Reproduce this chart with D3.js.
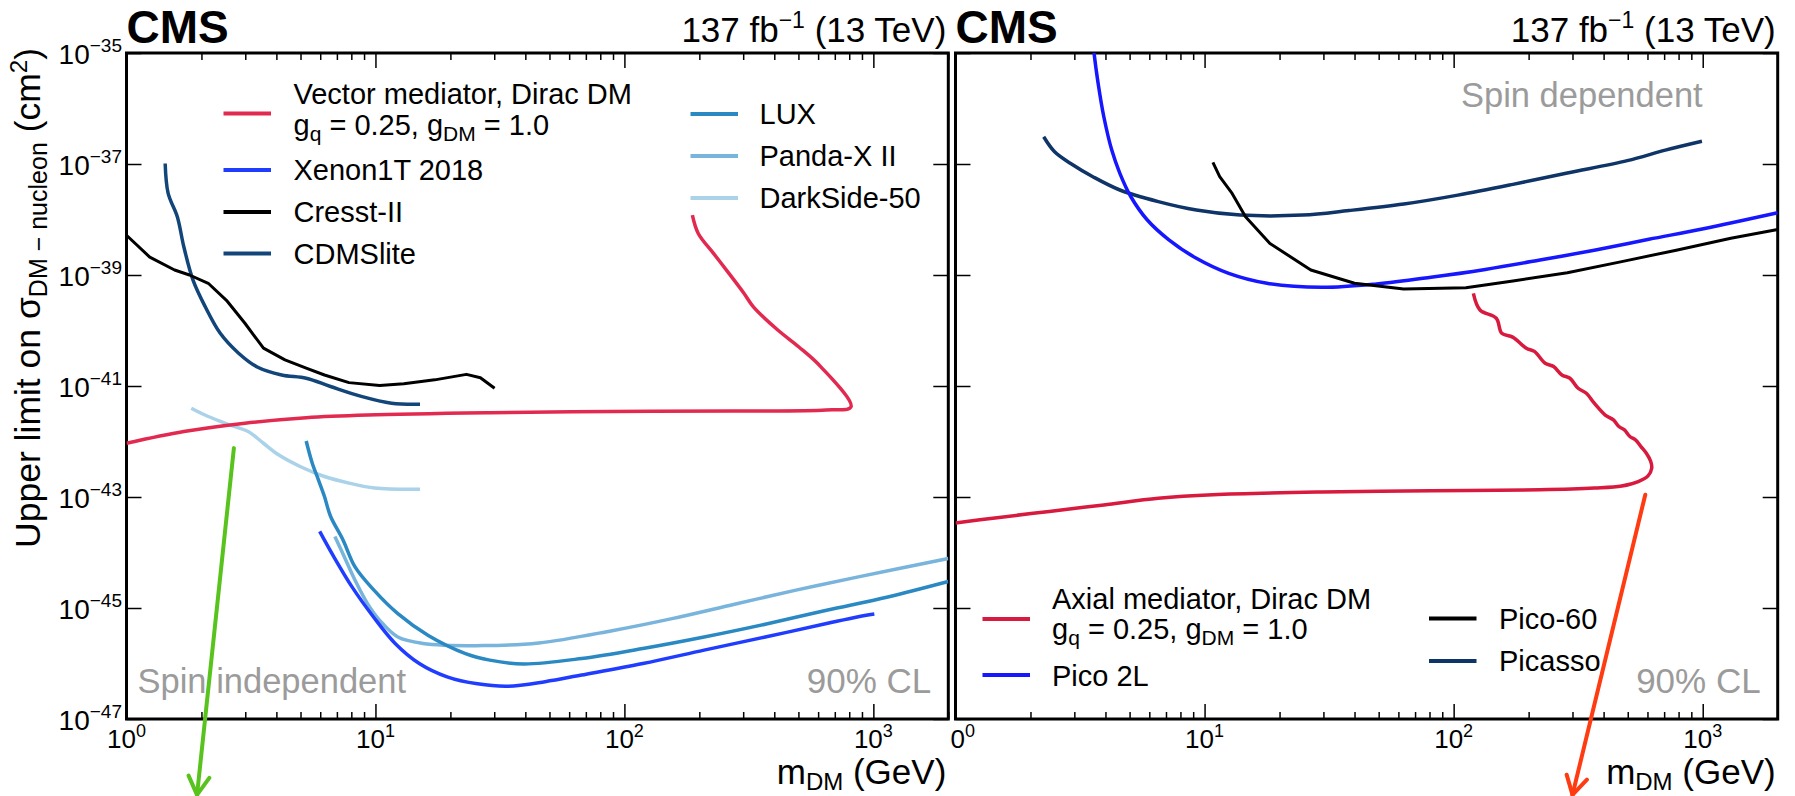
<!DOCTYPE html>
<html>
<head>
<meta charset="utf-8">
<script src="https://cdn.jsdelivr.net/npm/d3@7/dist/d3.min.js"></script>
<style>
  html, body { margin: 0; padding: 0; background: #fff; }
  svg { display: block; }
</style>
</head>
<body>
<script>
// ---------------- DATA ----------------
const xTickLabels = ["0", "1", "2", "3"];          // exponents of 10 on the mass axis
const yTickLabels = ["-35", "-37", "-39", "-41", "-43", "-45", "-47"]; // exponents on the cross-section axis

// Spin independent (left panel)
const vectorMass  = [187.5, 198, 228, 263, 302, 329, 413, 501, 614, 813, 646, 275, 89, 28.8, 9.29, 5.27, 2.99, 1.70, 1.0];
const vectorSigma = [1.2e-38, 5.6e-39, 2.45e-39, 1.07e-39, 4.7e-40, 2.7e-40, 1.02e-40, 5.1e-41, 2.24e-41, 4.2e-42, 3.7e-42, 3.55e-42, 3.47e-42, 3.3e-42, 3.0e-42, 2.69e-42, 2.14e-42, 1.51e-42, 9.3e-43];

const xenonMass  = [5.97, 6.79, 8.05, 9.82, 12.0, 15.0, 19.4, 25.7, 34.1, 48.0, 67.3, 118.6, 209, 368, 649, 861, 1009];
const xenonSigma = [2.4e-44, 8.5e-45, 2.4e-45, 6.9e-46, 2.3e-46, 1.0e-46, 5.75e-47, 4.3e-47, 3.9e-47, 4.7e-47, 6.2e-47, 1.0e-46, 1.74e-46, 3.0e-46, 5.25e-46, 6.9e-46, 7.8e-46];

const cresstMass  = [1.0, 1.24, 1.56, 1.79, 2.13, 2.52, 2.99, 3.55, 4.33, 5.27, 6.24, 7.83, 10.4, 13.0, 17.3, 23.2, 26.4, 30.1];
const cresstSigma = [5.2e-39, 2.1e-39, 1.23e-39, 1.0e-39, 7.1e-40, 3.5e-40, 1.35e-40, 4.8e-41, 2.95e-41, 2.1e-41, 1.58e-41, 1.15e-41, 1.02e-41, 1.1e-41, 1.29e-41, 1.62e-41, 1.41e-41, 9.1e-42];

const cdmsMass  = [1.43, 1.47, 1.60, 1.70, 1.85, 2.07, 2.38, 2.82, 3.35, 4.2, 5.27, 6.6, 8.77, 11.6, 15.1];
const cdmsSigma = [1.02e-37, 2.95e-38, 1.12e-38, 3.2e-39, 8.1e-40, 2.7e-40, 8.9e-41, 3.9e-41, 2.2e-41, 1.58e-41, 1.38e-41, 9.8e-42, 6.5e-42, 4.9e-42, 4.7e-42];

const luxMass  = [5.27, 5.57, 5.90, 6.24, 6.6, 7.4, 8.28, 9.82, 12.3, 16.3, 23.0, 28.8, 39.4, 67.3, 118.6, 209, 368, 649, 1143, 2000];
const luxSigma = [1.02e-42, 4.1e-43, 2.04e-43, 1.02e-43, 4.5e-44, 1.7e-44, 5.5e-45, 2.14e-45, 7.9e-46, 3.2e-46, 1.51e-46, 1.15e-46, 9.8e-47, 1.23e-46, 1.86e-46, 3.0e-46, 5.1e-46, 9.1e-46, 1.58e-45, 3.0e-45];

const pandaMass  = [6.87, 7.4, 8.28, 9.29, 10.4, 12.3, 15.5, 27.2, 45.3, 89.3, 157, 277, 489, 861, 2000];
const pandaSigma = [1.95e-44, 9.5e-45, 3.16e-45, 1.2e-45, 6.0e-46, 3.0e-46, 2.3e-46, 2.1e-46, 2.34e-46, 3.9e-46, 6.5e-46, 1.17e-45, 2.1e-45, 3.6e-45, 7.8e-45];

const darksideMass  = [1.82, 2.13, 2.59, 3.08, 3.55, 4.08, 4.98, 6.24, 7.83, 9.93, 15.1];
const darksideSigma = [3.98e-42, 2.82e-42, 2.0e-42, 1.51e-42, 9.3e-43, 5.75e-43, 3.55e-43, 2.34e-43, 1.78e-43, 1.45e-43, 1.38e-43];

// Spin dependent (right panel)
const axialMass  = [120, 127.6, 148.3, 156, 172.6, 195.8, 211, 233, 252, 272, 293, 316, 341, 367, 406, 438, 461, 485, 510, 537, 565, 593, 618, 624, 603, 551, 473, 367, 222, 81.1, 29.5, 10.8, 6.52, 3.94, 2.38, 1.44, 1.0];
const axialSigma = [4.68e-40, 2.34e-40, 1.66e-40, 8.9e-41, 7.6e-41, 4.8e-41, 4.2e-41, 2.57e-41, 2.24e-41, 1.58e-41, 1.38e-41, 9.1e-42, 7.4e-42, 4.9e-42, 3.0e-42, 2.45e-42, 1.86e-42, 1.62e-42, 1.23e-42, 1.07e-42, 8.1e-43, 6.2e-43, 4.4e-43, 3.3e-43, 2.4e-43, 1.9e-43, 1.58e-43, 1.45e-43, 1.35e-43, 1.29e-43, 1.23e-43, 1.1e-43, 9.5e-44, 7.2e-44, 5.5e-44, 4.2e-44, 3.4e-44];

const pico2lMass  = [3.55, 3.6, 3.74, 3.94, 4.24, 4.57, 5.06, 5.89, 7.19, 9.27, 12.5, 17.8, 29.5, 49.0, 81.1, 134, 222, 367, 608, 1007, 2000];
const pico2lSigma = [2e-35, 1e-35, 2.8e-36, 7.1e-37, 1.78e-37, 6.8e-38, 2.57e-38, 9.8e-39, 4.3e-39, 2.0e-39, 1.07e-39, 7.1e-40, 6.0e-40, 6.9e-40, 9.1e-40, 1.26e-39, 1.86e-39, 2.8e-39, 4.4e-39, 6.8e-39, 1.32e-38];

const pico60Mass  = [10.8, 11.5, 12.9, 14.6, 18.3, 26.7, 40.0, 63.0, 112, 173, 286, 473, 783, 1297, 2000];
const pico60Sigma = [1.07e-37, 5.9e-38, 2.95e-38, 1.12e-38, 3.7e-39, 1.23e-39, 7.1e-40, 5.6e-40, 5.9e-40, 7.8e-40, 1.1e-39, 1.74e-39, 2.8e-39, 4.6e-39, 6.6e-39];

const picassoMass  = [2.26, 2.5, 2.9, 3.56, 4.57, 6.52, 9.27, 13.9, 24.8, 38.0, 63.1, 104, 173, 286, 498, 708, 993];
const picassoSigma = [3.1e-37, 1.66e-37, 1.02e-37, 5.9e-38, 3.4e-38, 2.1e-38, 1.48e-38, 1.2e-38, 1.2e-38, 1.45e-38, 1.9e-38, 2.75e-38, 4.3e-38, 6.9e-38, 1.15e-37, 1.78e-37, 2.57e-37];

// Annotation arrows (data coordinates: mass, sigma)
const greenArrow = [[2.7, 7.6e-43], [1.92, 4.3e-49]];
const redArrow   = [[588, 1.1e-43], [300, 4.3e-49]];

// ---------------- DRAWING ----------------
const W = 1795, H = 796;
const FONT = "'Liberation Sans', Arial, Helvetica, sans-serif";
const svg = d3.select("body").append("svg").attr("width", W).attr("height", H)
  .style("font-family", FONT);

const yTop = 53, yBot = 719;
const y = d3.scaleLog().domain([1e-47, 1e-35]).range([yBot, yTop]);
const panels = [
  { id: "L", left: 126.5, right: 948.3 },
  { id: "R", left: 955.5, right: 1777.7 }
];
panels.forEach(p => p.x = d3.scaleLog().domain([1, 2000]).range([p.left, p.right]));

const zip = (m, s) => m.map((v, i) => [v, s[i]]);

const defs = svg.append("defs");
panels.forEach(p => {
  defs.append("clipPath").attr("id", "clip" + p.id)
    .append("rect").attr("x", p.left).attr("y", yTop).attr("width", p.right - p.left).attr("height", yBot - yTop);
});
defs.append("clipPath").attr("id", "clipLabR")
  .append("rect").attr("x", 950).attr("y", 0).attr("width", 900).attr("height", H);

const majorX = xTickLabels.map(e => Math.pow(10, +e));
const minorX = [];
for (let d = 0; d <= 3; d++) for (let k = 2; k <= 9; k++) { const v = k * Math.pow(10, d); if (v <= 2000) minorX.push(v); }
const majorY = yTickLabels.map(e => Math.pow(10, +e));

function drawAxes(p) {
  const g = svg.append("g");
  const styleAxis = sel => { sel.select(".domain").remove(); sel.selectAll("text").remove();
    sel.selectAll("line").attr("stroke", "#000").attr("stroke-width", 1.5); };
  g.append("g").attr("transform", `translate(0,${yBot})`).call(d3.axisBottom(p.x).tickValues(majorX).tickSize(-15)).call(styleAxis);
  g.append("g").attr("transform", `translate(0,${yBot})`).call(d3.axisBottom(p.x).tickValues(minorX).tickSize(-7)).call(styleAxis);
  g.append("g").attr("transform", `translate(0,${yTop})`).call(d3.axisTop(p.x).tickValues(majorX).tickSize(-15)).call(styleAxis);
  g.append("g").attr("transform", `translate(0,${yTop})`).call(d3.axisTop(p.x).tickValues(minorX).tickSize(-7)).call(styleAxis);
  g.append("g").attr("transform", `translate(${p.left},0)`).call(d3.axisLeft(y).tickValues(majorY).tickSize(-15)).call(styleAxis);
  g.append("g").attr("transform", `translate(${p.right},0)`).call(d3.axisRight(y).tickValues(majorY).tickSize(-15)).call(styleAxis);
  g.append("rect").attr("x", p.left).attr("y", yTop).attr("width", p.right - p.left).attr("height", yBot - yTop)
    .attr("fill", "none").attr("stroke", "#000").attr("stroke-width", 3);

  // x tick labels
  const lg = svg.append("g");
  if (p.id === "R") lg.attr("clip-path", "url(#clipLabR)");
  xTickLabels.forEach((e, i) => {
    const t = lg.append("text").attr("x", p.x(majorX[i])).attr("y", 748).attr("text-anchor", "middle").attr("fill", "#000");
    t.append("tspan").attr("font-size", 26).text("10");
    t.append("tspan").attr("font-size", 18).attr("dy", -11).text(e);
  });
  // x title
  const xt = svg.append("text").attr("x", p.right - 2).attr("y", 784).attr("text-anchor", "end").attr("font-size", 35);
  xt.append("tspan").text("m");
  xt.append("tspan").attr("font-size", 24).attr("dy", 6).text("DM");
  xt.append("tspan").attr("dy", -6).text(" (GeV)");
  // CMS + lumi
  svg.append("text").attr("x", p.left).attr("y", 43).attr("font-size", 46).attr("font-weight", "bold").text("CMS");
  const lt = svg.append("text").attr("x", p.right - 2).attr("y", 42).attr("text-anchor", "end").attr("font-size", 35);
  lt.append("tspan").text("137 fb");
  lt.append("tspan").attr("font-size", 23).attr("dy", -14).text("\u22121");
  lt.append("tspan").attr("dy", 14).text(" (13 TeV)");
}
panels.forEach(drawAxes);

// y tick labels (left panel only)
yTickLabels.forEach((e, i) => {
  const t = svg.append("text").attr("x", 122).attr("y", y(majorY[i]) + 11).attr("text-anchor", "end");
  t.append("tspan").attr("font-size", 28).text("10");
  t.append("tspan").attr("font-size", 19).attr("dy", -12).text(e.replace("-", "\u2212"));
});

// y title
const yt = svg.append("text").attr("transform", "translate(40,48) rotate(-90)").attr("text-anchor", "end").attr("font-size", 35.5);
yt.append("tspan").text("Upper limit on \u03C3");
yt.append("tspan").attr("font-size", 25).attr("dy", 7).text("DM \u2212 nucleon");
yt.append("tspan").attr("dy", -7).text(" (cm");
yt.append("tspan").attr("font-size", 24).attr("dy", -13).text("2");
yt.append("tspan").attr("dy", 13).text(")");

// curves
function curve(p, mass, sigma, color, width, curveType) {
  const line = d3.line().x(d => p.x(d[0])).y(d => y(d[1])).curve(curveType || d3.curveCatmullRom.alpha(0.5));
  svg.append("g").attr("clip-path", `url(#clip${p.id})`).append("path")
    .attr("d", line(zip(mass, sigma))).attr("fill", "none").attr("stroke", color)
    .attr("stroke-width", width).attr("stroke-linejoin", "round").attr("stroke-linecap", "butt");
}
const L = panels[0], R = panels[1];
const C = {
  vector: "#e2294f", axial: "#d71a3d", xenon: "#1f3cff", pico2l: "#1616ff", black: "#000000",
  cdms: "#12467a", picasso: "#0f3467", lux: "#2a89c3", panda: "#79b4dc", darkside: "#aad2e8"
};
curve(L, darksideMass, darksideSigma, C.darkside, 3.5);
curve(L, pandaMass, pandaSigma, C.panda, 3.5);
curve(L, luxMass, luxSigma, C.lux, 3.5);
curve(L, xenonMass, xenonSigma, C.xenon, 3.5);
curve(L, cdmsMass, cdmsSigma, C.cdms, 3.5);
curve(L, cresstMass, cresstSigma, C.black, 3, d3.curveLinear);
curve(L, vectorMass, vectorSigma, C.vector, 3.5);

curve(R, picassoMass, picassoSigma, C.picasso, 3.5);
curve(R, pico2lMass, pico2lSigma, C.pico2l, 3.5);
curve(R, pico60Mass, pico60Sigma, C.black, 3, d3.curveLinear);
curve(R, axialMass, axialSigma, C.axial, 3.5);

// grey labels
const grey = "#9b9b9b";
svg.append("text").attr("x", L.left + 11).attr("y", 693).attr("font-size", 34.5).attr("fill", grey).text("Spin independent");
svg.append("text").attr("x", L.right - 17).attr("y", 693).attr("font-size", 35).attr("fill", grey).attr("text-anchor", "end").text("90% CL");
svg.append("text").attr("x", R.right - 17).attr("y", 693).attr("font-size", 35).attr("fill", grey).attr("text-anchor", "end").text("90% CL");
svg.append("text").attr("x", R.x(1000)).attr("y", 107).attr("font-size", 34.5).attr("fill", grey).attr("text-anchor", "end").text("Spin dependent");

// legends
function legendLine(x0, yy, color) {
  svg.append("line").attr("x1", x0).attr("x2", x0 + 47.5).attr("y1", yy).attr("y2", yy)
    .attr("stroke", color).attr("stroke-width", 4);
}
function legendText(x, yy, text) {
  svg.append("text").attr("x", x).attr("y", yy).attr("font-size", 29).text(text);
}
function couplingText(x, yy) {
  const t = svg.append("text").attr("x", x).attr("y", yy).attr("font-size", 29);
  t.append("tspan").text("g");
  t.append("tspan").attr("font-size", 21).attr("dy", 6).text("q");
  t.append("tspan").attr("dy", -6).text(" = 0.25, g");
  t.append("tspan").attr("font-size", 21).attr("dy", 6).text("DM");
  t.append("tspan").attr("dy", -6).text(" = 1.0");
}
// left legend
legendLine(223.5, 113.5, C.vector);
legendText(293.5, 104, "Vector mediator, Dirac DM");
couplingText(293.5, 135);
legendLine(223.5, 170, C.xenon);   legendText(293.5, 180, "Xenon1T 2018");
legendLine(223.5, 212, C.black);   legendText(293.5, 222, "Cresst-II");
legendLine(223.5, 253.5, C.cdms);  legendText(293.5, 264, "CDMSlite");
legendLine(690.5, 114, C.lux);     legendText(759.5, 124, "LUX");
legendLine(690.5, 156, C.panda);   legendText(759.5, 166, "Panda-X II");
legendLine(690.5, 198, C.darkside);legendText(759.5, 208, "DarkSide-50");
// right legend
legendLine(982.5, 619, C.axial);
legendText(1052, 608.5, "Axial mediator, Dirac DM");
couplingText(1052, 638.5);
legendLine(982.5, 675, C.pico2l);  legendText(1052, 685.5, "Pico 2L");
legendLine(1429, 618.5, C.black);  legendText(1499, 628.5, "Pico-60");
legendLine(1429, 661, C.picasso);  legendText(1499, 671, "Picasso");

// annotation arrows
function arrow(p, pts, color) {
  const x1 = p.x(pts[0][0]), y1 = y(pts[0][1]), x2 = p.x(pts[1][0]), y2 = y(pts[1][1]);
  const g = svg.append("g").attr("stroke", color).attr("stroke-width", 4).attr("fill", "none")
    .attr("stroke-linecap", "round").attr("stroke-linejoin", "round");
  g.append("line").attr("x1", x1).attr("y1", y1).attr("x2", x2).attr("y2", y2);
  const ang = Math.atan2(y2 - y1, x2 - x1), len = 21, spread = 0.52;
  const a1 = ang + Math.PI - spread, a2 = ang + Math.PI + spread;
  g.append("path").attr("d",
    `M${x2 + len * Math.cos(a1)},${y2 + len * Math.sin(a1)} L${x2},${y2} L${x2 + len * Math.cos(a2)},${y2 + len * Math.sin(a2)}`);
}
arrow(L, greenArrow, "#58c31c");
arrow(R, redArrow, "#ff3b12");
</script>
</body>
</html>
